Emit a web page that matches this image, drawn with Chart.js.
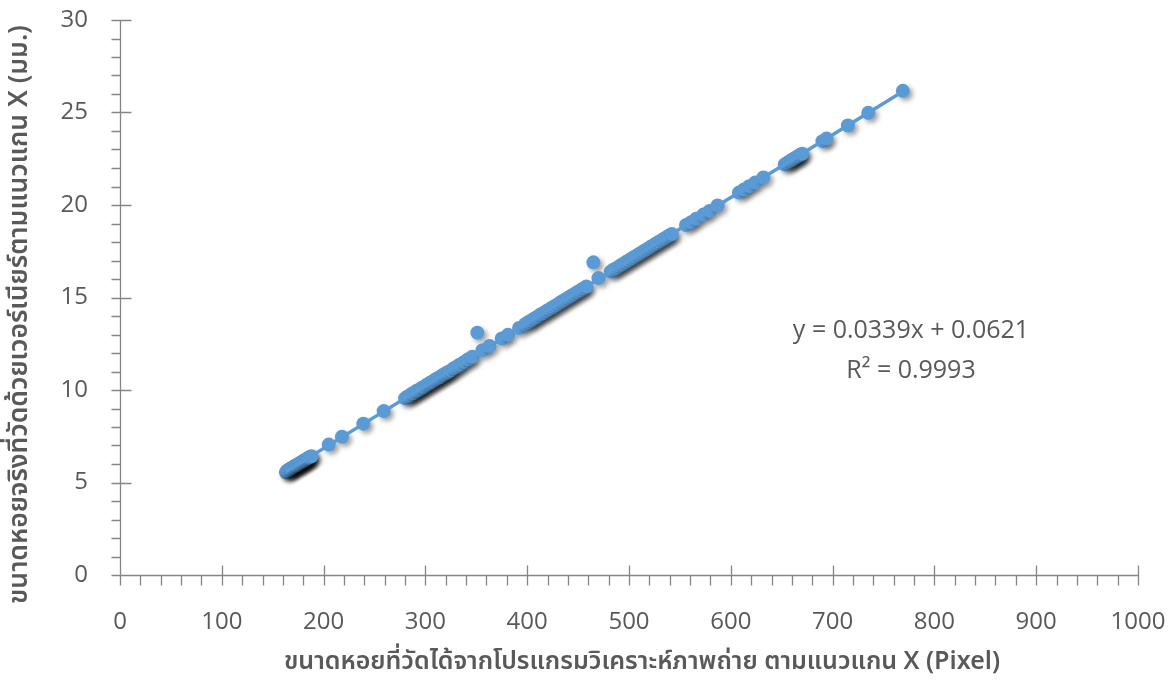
<!DOCTYPE html>
<html>
<head>
<meta charset="utf-8">
<script src="https://cdn.jsdelivr.net/npm/chart.js@4"></script>
<style>
  html, body { margin: 0; padding: 0; background: #ffffff; }
  #wrap { width: 1175px; height: 685px; }
</style>
</head>
<body>
<div id="wrap"><canvas id="c" width="1175" height="685"></canvas></div>
<script>
// Pixel size from image analysis (x) vs. vernier caliper size (y), along the X axis
const X_TICKS = [0, 100, 200, 300, 400, 500, 600, 700, 800, 900, 1000];
const Y_TICKS = [0, 5, 10, 15, 20, 25, 30];

const X_TITLE = 'ขนาดหอยที่วัดได้จากโปรแกรมวิเคราะห์ภาพถ่าย ตามแนวแกน X (Pixel)';
const Y_TITLE = 'ขนาดหอยจริงที่วัดด้วยเวอร์เนียร์ตามแนวแกน X (มม.)';

const pixelX = [
  163, 164, 165, 166, 167, 168, 169, 170, 171, 172, 173, 174, 175, 176, 177, 178, 179, 180, 181, 182, 183, 184, 185, 186, 188,
  205, 218, 239, 259,
  280, 283, 285, 287, 289, 291, 293, 295, 297, 299, 301, 303, 305, 307, 309, 311, 313, 315, 317, 319, 321, 323, 325, 328, 331, 334, 338, 342, 346,
  351, 356, 363, 375, 381, 392,
  398, 401, 404, 407, 410, 413, 416, 419, 422, 425, 428, 431, 434, 437, 440, 443, 446, 449, 452, 455, 458,
  465, 470,
  482, 485, 488, 491, 494, 497, 500, 503, 506, 509, 512, 515, 518, 521, 524, 527, 530, 533, 536, 539, 542,
  556, 561, 566, 573, 579, 587,
  608, 613, 618, 624, 632,
  653, 656, 658, 660, 662, 664, 666, 668, 670,
  690, 694, 715, 735, 769
];
const caliperMM = [
  5.55, 5.62, 5.66, 5.68, 5.74, 5.75, 5.80, 5.83, 5.86, 5.90, 5.92, 5.95, 5.99, 6.02, 6.06, 6.08, 6.12, 6.16, 6.18, 6.22, 6.25, 6.30, 6.33, 6.36, 6.42,
  7.05, 7.47, 8.18, 8.86,
  9.55, 9.66, 9.71, 9.81, 9.84, 9.94, 9.99, 10.05, 10.14, 10.17, 10.27, 10.33, 10.40, 10.45, 10.54, 10.60, 10.66, 10.72, 10.81, 10.86, 10.93, 10.99, 11.06, 11.18, 11.27, 11.38, 11.52, 11.66, 11.80,
  13.10, 12.15, 12.38, 12.78, 12.98, 13.35,
  13.56, 13.66, 13.76, 13.87, 13.96, 14.08, 14.16, 14.27, 14.37, 14.47, 14.57, 14.67, 14.78, 14.88, 14.98, 15.08, 15.18, 15.29, 15.38, 15.49, 15.59,
  16.90, 16.05,
  16.40, 16.52, 16.60, 16.71, 16.81, 16.92, 17.01, 17.12, 17.22, 17.32, 17.42, 17.53, 17.62, 17.73, 17.83, 17.93, 18.03, 18.13, 18.23, 18.34, 18.43,
  18.92, 19.07, 19.26, 19.48, 19.68, 19.97,
  20.67, 20.84, 21.02, 21.22, 21.49,
  22.19, 22.30, 22.37, 22.43, 22.50, 22.57, 22.63, 22.71, 22.77,
  23.45, 23.59, 24.30, 24.98, 26.17
];

// Linear trendline as reported on the chart
const SLOPE = 0.0339;
const INTERCEPT = 0.0621;
const R_SQUARED = 0.9993;
const TREND_RANGE = [163, 769];

const BLUE = '#5b9bd5';
const TEXT = '#595959';
const AXIS = '#868686';
const FONT = '"Open Sans", "Noto Sans", "DejaVu Sans", sans-serif';
const THAI_FONT = '"Noto Sans Thai", "Noto Sans Thai UI", "Noto Sans", "DejaVu Sans", sans-serif';

const points = pixelX.map((x, i) => ({ x: x, y: caliperMM[i] }));
const trend = TREND_RANGE.map(x => ({ x: x, y: SLOPE * x + INTERCEPT }));

// Soft drop shadow under the markers
const markerShadow = {
  id: 'markerShadow',
  beforeDatasetDraw(chart, args) {
    if (args.index !== 1) return;
    const ctx = chart.ctx;
    ctx.save();
    ctx.shadowColor = 'rgba(0,0,0,0.38)';
    ctx.shadowBlur = 5;
    ctx.shadowOffsetX = 3;
    ctx.shadowOffsetY = 3;
  },
  afterDatasetDraw(chart, args) {
    if (args.index !== 1) return;
    chart.ctx.restore();
  }
};

// Axis lines with major ticks crossing the axis and minor ticks outside
const crossAxes = {
  id: 'crossAxes',
  beforeDatasetsDraw(chart) {
    const ctx = chart.ctx;
    const xs = chart.scales.x, ys = chart.scales.y;
    const x0 = Math.round(xs.getPixelForValue(0)) + 0.5;
    const y0 = Math.round(ys.getPixelForValue(0)) + 0.5;
    ctx.save();
    ctx.strokeStyle = AXIS;
    ctx.lineWidth = 1.3;
    ctx.beginPath();
    ctx.moveTo(x0, ys.getPixelForValue(30));
    ctx.lineTo(x0, y0);
    ctx.moveTo(x0, y0);
    ctx.lineTo(xs.getPixelForValue(1000), y0);
    for (let v = 0; v <= 30; v += 1) {
      const p = Math.round(ys.getPixelForValue(v)) + 0.5;
      const major = v % 5 === 0;
      ctx.moveTo(x0 - 9, p);
      ctx.lineTo(major ? x0 + 11 : x0, p);
    }
    for (let v = 0; v <= 1000; v += 20) {
      const p = Math.round(xs.getPixelForValue(v)) + 0.5;
      const major = v % 100 === 0;
      ctx.moveTo(p, major ? y0 - 10 : y0);
      ctx.lineTo(p, y0 + 10);
    }
    ctx.stroke();
    ctx.restore();
  }
};

// Axis titles, trendline equation and R² label
const labels = {
  id: 'labels',
  afterDraw(chart) {
    const ctx = chart.ctx;
    const a = chart.chartArea;
    ctx.save();
    ctx.fillStyle = TEXT;
    ctx.textAlign = 'center';
    ctx.textBaseline = 'middle';

    ctx.font = '25px ' + FONT;
    const cx = a.left + (a.right - a.left) * 0.777;
    ctx.fillText('y = ' + SLOPE.toFixed(4) + 'x + ' + INTERCEPT.toFixed(4), cx, a.top + 311);
    ctx.fillText('R\u00B2 = ' + R_SQUARED.toFixed(4), cx, a.top + 351);

    ctx.font = '600 25px ' + THAI_FONT;
    ctx.fillText(X_TITLE, a.left + (a.right - a.left) / 2 + 13, a.bottom + 89);

    ctx.translate(22, (a.top + a.bottom) / 2 + 17);
    ctx.rotate(-Math.PI / 2);
    ctx.font = '600 26.5px ' + THAI_FONT;
    ctx.fillText(Y_TITLE, 0, 0);
    ctx.restore();
  }
};

new Chart(document.getElementById('c'), {
  type: 'scatter',
  data: {
    datasets: [
      {
        type: 'line',
        label: 'Linear',
        data: trend,
        borderColor: BLUE,
        borderWidth: 3.5,
        pointRadius: 0,
        fill: false
      },
      {
        label: 'ขนาดหอย',
        data: points,
        backgroundColor: BLUE,
        borderWidth: 0,
        pointRadius: 7,
        pointHoverRadius: 7
      }
    ]
  },
  options: {
    responsive: false,
    animation: false,
    devicePixelRatio: 1,
    layout: { padding: { left: 0, top: 20, right: 37, bottom: 0 } },
    plugins: { legend: { display: false }, tooltip: { enabled: false } },
    scales: {
      x: {
        type: 'linear',
        min: X_TICKS[0],
        max: X_TICKS[X_TICKS.length - 1],
        grid: { display: false, drawTicks: false },
        border: { display: false },
        afterBuildTicks(scale) { scale.ticks = X_TICKS.map(v => ({ value: v })); },
        afterFit(scale) {
          scale.height = 110;
          scale.paddingLeft = 0; scale.paddingRight = 0;
        },
        ticks: {
          color: TEXT, font: { family: FONT, size: 24 }, padding: 33, maxRotation: 0,
          callback: v => String(v)
        }
      },
      y: {
        type: 'linear',
        min: Y_TICKS[0],
        max: Y_TICKS[Y_TICKS.length - 1],
        grid: { display: false, drawTicks: false },
        border: { display: false },
        afterBuildTicks(scale) { scale.ticks = Y_TICKS.map(v => ({ value: v })); },
        afterFit(scale) {
          scale.width = 120;
          scale.paddingTop = 0; scale.paddingBottom = 0;
        },
        ticks: {
          color: TEXT, font: { family: FONT, size: 24 }, padding: 32,
          callback: v => String(v)
        }
      }
    }
  },
  plugins: [markerShadow, crossAxes, labels]
});
</script>
</body>
</html>
